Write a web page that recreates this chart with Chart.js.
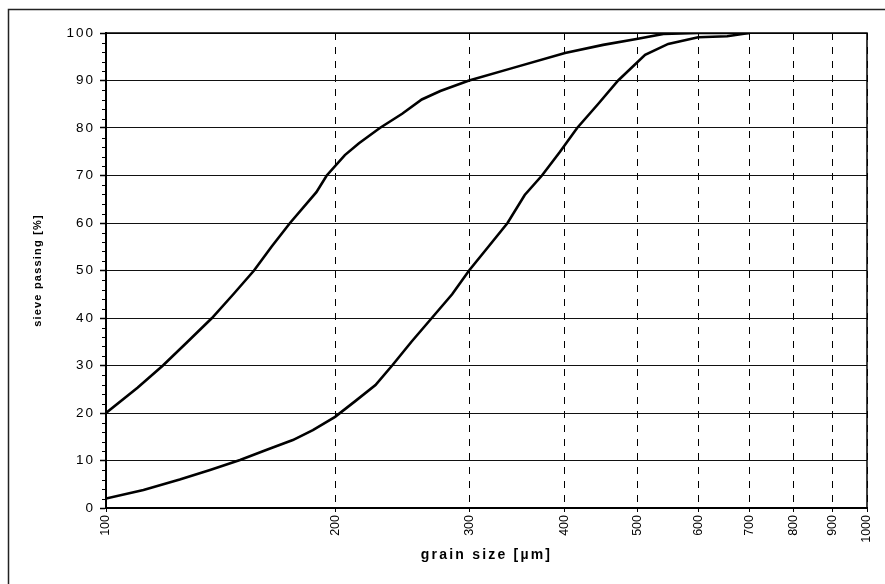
<!DOCTYPE html>
<html>
<head>
<meta charset="utf-8">
<script src="https://cdn.jsdelivr.net/npm/chart.js@4/dist/chart.umd.min.js"></script>
<style>
  html, body { margin: 0; padding: 0; background: #fff; }
  #wrap { width: 885px; height: 584px; position: relative; }
</style>
</head>
<body>
<div id="wrap"><canvas id="c"></canvas></div>
<script>
// ---- data ----
const xTickValues = [100, 200, 300, 400, 500, 600, 700, 800, 900, 1000];
const yTickValues = [0, 10, 20, 30, 40, 50, 60, 70, 80, 90, 100];

const fineSize = [100, 110, 118.8, 128, 137.8, 147, 156.5, 165, 174.5, 189, 195, 206, 215, 229, 245, 260, 275, 300, 340, 401, 450, 500, 540, 600, 700];
const finePass = [20, 25.3, 30, 35, 40, 45, 50, 55, 60, 66.5, 70, 74.3, 76.8, 80, 83, 86, 87.8, 90, 92.5, 95.8, 97.5, 98.8, 99.8, 100, 100];

const coarseSize = [100, 112, 125, 137, 150, 163, 176, 187, 200, 213, 226, 238, 252, 268, 285, 300, 318, 337, 355, 374, 395, 416, 443, 471, 511, 548, 600, 655, 700];
const coarsePass = [2, 3.8, 6, 8, 10.1, 12.3, 14.3, 16.4, 19.2, 22.6, 25.9, 30.1, 35, 40, 45, 50, 55, 60, 65.9, 70, 75, 80, 85, 90, 95.4, 97.7, 99.1, 99.3, 100];

const xTitle = 'grain size [µm]';
const yTitle = 'sieve passing [%]';

const toPts = (xs, ys) => xs.map((x, i) => ({ x: x, y: ys[i] }));

// ---- plugins ----
const spacingPlugin = {
  id: 'spacing',
  beforeDraw(chart) {
    const map = { x: { title: '2.2px', labels: '0px' }, y: { title: '1.2px', labels: '2px' } };
    for (const id of ['x', 'y']) {
      const s = chart.scales[id];
      if (!s || s._wrappedSpacing) continue;
      s._wrappedSpacing = true;
      const dt = s.drawTitle.bind(s), dl = s.drawLabels.bind(s);
      s.drawTitle = function (...a) {
        const c = chart.ctx; const o = c.letterSpacing;
        c.letterSpacing = map[id].title; dt(...a); c.letterSpacing = o || '0px';
      };
      s.drawLabels = function (...a) {
        const c = chart.ctx; const o = c.letterSpacing;
        c.letterSpacing = map[id].labels; dl(...a); c.letterSpacing = o || '0px';
      };
    }
  }
};

const framePlugin = {
  id: 'frame',
  afterDraw(chart) {
    const { ctx, chartArea: a, scales: { y } } = chart;
    ctx.save();
    // outer border (left + top)
    ctx.strokeStyle = '#222';
    ctx.lineWidth = 1.5;
    ctx.beginPath();
    ctx.moveTo(8.5, chart.height);
    ctx.lineTo(8.5, 9.5);
    ctx.lineTo(chart.width, 9.5);
    ctx.stroke();
    // plot frame top/right
    ctx.strokeStyle = '#000';
    ctx.lineWidth = 1.5;
    ctx.beginPath();
    ctx.moveTo(a.left, a.top);
    ctx.lineTo(a.right, a.top);
    ctx.lineTo(a.right, a.bottom);
    ctx.stroke();
    // minor ticks on y axis
    ctx.lineWidth = 1;
    ctx.beginPath();
    for (let v = 2; v < 100; v += 2) {
      if (v % 10 === 0) continue;
      const py = Math.round(y.getPixelForValue(v)) + 0.5;
      ctx.moveTo(a.left - 4, py);
      ctx.lineTo(a.left, py);
    }
    ctx.stroke();
    ctx.restore();
  }
};

// ---- chart ----
new Chart(document.getElementById('c'), {
  type: 'line',
  data: {
    datasets: [
      { label: 'fine', data: toPts(fineSize, finePass), borderColor: '#000', borderWidth: 2.6, pointRadius: 0, tension: 0, fill: false },
      { label: 'coarse', data: toPts(coarseSize, coarsePass), borderColor: '#000', borderWidth: 2.6, pointRadius: 0, tension: 0, fill: false }
    ]
  },
  options: {
    responsive: true,
    maintainAspectRatio: false,
    animation: false,
    events: [],
    layout: { padding: { left: 9, top: 33, right: 18, bottom: 0 } },
    plugins: { legend: { display: false }, tooltip: { enabled: false } },
    scales: {
      x: {
        type: 'logarithmic',
        min: 100,
        max: 1000,
        afterBuildTicks: (s) => { s.ticks = xTickValues.map(v => ({ value: v, major: false })); },
        afterFit: (s) => { s.height = 76; },
        ticks: {
          autoSkip: false,
          minRotation: 90,
          maxRotation: 90,
          padding: 3,
          color: '#000',
          font: { family: '"Liberation Sans", Arial, sans-serif', size: 12.5 },
          callback: (v) => String(v)
        },
        grid: { color: '#000', lineWidth: 1, tickLength: 4, tickColor: '#000', tickWidth: 1 },
        border: { display: true, color: '#000', width: 2, dash: [7, 7] },
        title: {
          display: true,
          text: xTitle,
          color: '#000',
          font: { family: '"Liberation Sans", Arial, sans-serif', size: 14, weight: 'bold' },
          padding: { top: 0, bottom: 20 }
        }
      },
      y: {
        type: 'linear',
        min: 0,
        max: 100,
        afterBuildTicks: (s) => { s.ticks = yTickValues.map(v => ({ value: v })); },
        afterFit: (s) => { s.width = 97; },
        ticks: {
          padding: 5,
          color: '#000',
          font: { family: '"Liberation Sans", Arial, sans-serif', size: 13.5 },
          callback: (v) => String(v)
        },
        grid: { color: '#111', lineWidth: 1, tickLength: 6, tickColor: '#000', tickWidth: 1.5 },
        border: { display: true, color: '#000', width: 2 },
        title: {
          display: true,
          text: yTitle,
          color: '#000',
          font: { family: '"Liberation Sans", Arial, sans-serif', size: 11, weight: 'bold' },
          padding: { top: 22, bottom: 0 }
        }
      }
    }
  },
  plugins: [spacingPlugin, framePlugin]
});
</script>
</body>
</html>
